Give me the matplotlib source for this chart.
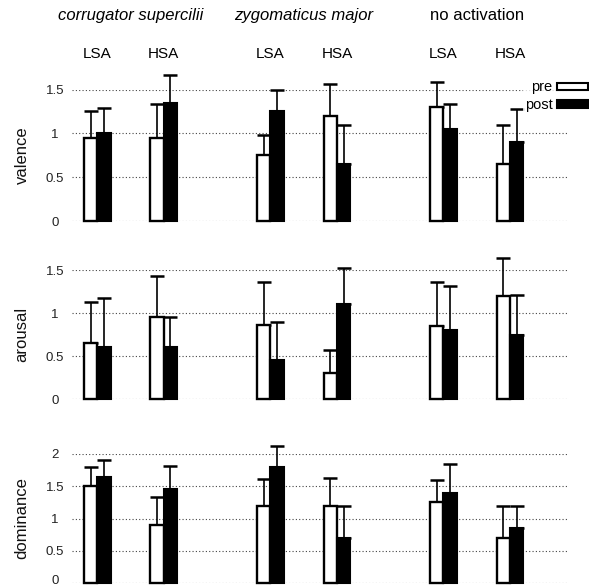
import numpy as np
import matplotlib
matplotlib.use("Agg")
import matplotlib.pyplot as plt
import matplotlib.transforms as mtransforms
from matplotlib.patches import Patch

plt.rcParams['font.family'] = ['Liberation Sans', 'DejaVu Sans']

muscles = ["corrugator supercilii", "zygomaticus major", "no activation"]
muscle_italic = [True, True, False]
groups = ["LSA", "HSA"]
measures = ["valence", "arousal", "dominance"]

# order: corr LSA, corr HSA, zyg LSA, zyg HSA, none LSA, none HSA
valence_pre = [0.95, 0.95, 0.75, 1.20, 1.30, 0.65]
valence_pre_err = [0.31, 0.39, 0.235, 0.36, 0.29, 0.45]
valence_post = [1.00, 1.35, 1.25, 0.65, 1.05, 0.90]
valence_post_err = [0.29, 0.31, 0.24, 0.44, 0.29, 0.38]

arousal_pre = [0.655, 0.955, 0.855, 0.305, 0.85, 1.20]
arousal_pre_err = [0.47, 0.48, 0.50, 0.27, 0.51, 0.44]
arousal_post = [0.605, 0.605, 0.455, 1.105, 0.80, 0.75]
arousal_post_err = [0.575, 0.345, 0.44, 0.42, 0.51, 0.46]

dominance_pre = [1.50, 0.90, 1.20, 1.20, 1.25, 0.70]
dominance_pre_err = [0.30, 0.44, 0.41, 0.43, 0.35, 0.50]
dominance_post = [1.65, 1.45, 1.80, 0.70, 1.40, 0.85]
dominance_post_err = [0.25, 0.36, 0.33, 0.49, 0.45, 0.35]

pre_vals = [valence_pre, arousal_pre, dominance_pre]
pre_errs = [valence_pre_err, arousal_pre_err, dominance_pre_err]
post_vals = [valence_post, arousal_post, dominance_post]
post_errs = [valence_post_err, arousal_post_err, dominance_post_err]
yticks = [[0, 0.5, 1, 1.5], [0, 0.5, 1, 1.5], [0, 0.5, 1, 1.5, 2]]

# pair centres: 1 unit between LSA/HSA, 1.6 between muscles
centers = np.array([0, 1, 2.6, 3.6, 5.2, 6.2])
w = 0.2

W, H = 589, 588
fig = plt.figure(figsize=(W / 100, H / 100), dpi=100)

# axes boxes in pixels: (y of zero line, y of top tick)
boxes = [(221, 89.5), (399, 270), (583, 454)]
x0, x1 = 71.7, 568

axes = []
for i, (yb, yt) in enumerate(boxes):
    ax = fig.add_axes([x0 / W, 1 - yb / H, (x1 - x0) / W, (yb - yt) / H])
    axes.append(ax)
    ax.set_xlim(-0.383, 7.07)
    ax.set_ylim(0, yticks[i][-1])
    ax.set_yticks(yticks[i])
    ax.set_yticklabels([f"{t:g}" for t in yticks[i]], ha='center')
    ax.tick_params(axis='y', length=0, pad=12.2, labelsize=9.5, colors='#222222')
    ax.tick_params(axis='x', bottom=False, labelbottom=False)
    for s in ax.spines.values():
        s.set_visible(False)
    ax.set_axisbelow(True)
    ax.yaxis.grid(True, linestyle=(0, (1, 2)), linewidth=0.8, color='#444444')

    pre = np.array(pre_vals[i])
    post = np.array(post_vals[i])
    b1 = ax.bar(centers - w, pre, w, align='edge', color='white',
                edgecolor='black', linewidth=1.7, zorder=2)
    b2 = ax.bar(centers, post, w, align='edge', color='black',
                edgecolor='black', linewidth=1.5, zorder=2)
    e1 = ax.errorbar(centers - w / 2, pre, yerr=[np.zeros(6), pre_errs[i]],
                     fmt='none', ecolor='black', elinewidth=1.2,
                     capsize=5, capthick=1.8, zorder=1)
    e2 = ax.errorbar(centers + w / 2, post, yerr=[np.zeros(6), post_errs[i]],
                     fmt='none', ecolor='black', elinewidth=1.2,
                     capsize=5, capthick=1.8, zorder=1)
    for art in list(b1) + list(b2):
        art.set_clip_on(False)
    for cont in (e1, e2):
        for part in cont.lines:
            if part is None:
                continue
            for a in (part if isinstance(part, tuple) else [part]):
                a.set_clip_on(False)

    ax.set_ylabel(measures[i], fontsize=12, va='center', color='#111111')
    ax.yaxis.set_label_coords(-(x0 - 22) / (x1 - x0), 0.5)

# keep the bottom "0" label inside the canvas
zero_lbl = axes[2].get_yticklabels()[0]
zero_lbl.set_transform(zero_lbl.get_transform() +
                       mtransforms.ScaledTranslation(0, 4 / 100, fig.dpi_scale_trans))

# column headings
trans = mtransforms.blended_transform_factory(axes[0].transData, fig.transFigure)
for k, name in enumerate(muscles):
    xc = (centers[2 * k] + centers[2 * k + 1]) / 2
    axes[0].text(xc, 1 - 20 / H, name, transform=trans, ha='center',
                 va='baseline', fontsize=12,
                 style='italic' if muscle_italic[k] else 'normal')
for j, c in enumerate(centers):
    axes[0].text(c, 1 - 58 / H, groups[j % 2], transform=trans, ha='center',
                 va='baseline', fontsize=11)

handles = [Patch(facecolor='white', edgecolor='black', linewidth=1.5),
           Patch(facecolor='black', edgecolor='black', linewidth=1.5)]
leg = fig.legend(handles, ["pre", "post"], loc='upper right',
                 bbox_to_anchor=(1.0, 1 - 79 / H), markerfirst=False,
                 frameon=True, fontsize=10.5, handlelength=2.1,
                 handleheight=0.4, handletextpad=0.3, borderpad=0.1,
                 borderaxespad=0, labelspacing=0.25, fancybox=False)
leg.get_frame().set_edgecolor('none')
leg.get_frame().set_facecolor('white')

fig.savefig("out.png", dpi=100)
